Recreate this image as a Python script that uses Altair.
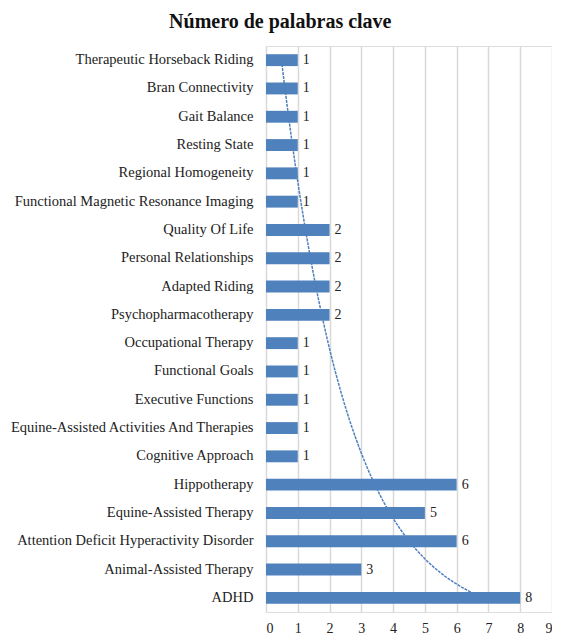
import altair as alt
import pandas as pd

categories = [
    "Therapeutic Horseback Riding",
    "Bran Connectivity",
    "Gait Balance",
    "Resting State",
    "Regional Homogeneity",
    "Functional Magnetic Resonance Imaging",
    "Quality Of Life",
    "Personal Relationships",
    "Adapted Riding",
    "Psychopharmacotherapy",
    "Occupational Therapy",
    "Functional Goals",
    "Executive Functions",
    "Equine-Assisted Activities And Therapies",
    "Cognitive Approach",
    "Hippotherapy",
    "Equine-Assisted Therapy",
    "Attention Deficit Hyperactivity Disorder",
    "Animal-Assisted Therapy",
    "ADHD",
]
values = [1, 1, 1, 1, 1, 1, 2, 2, 2, 2, 1, 1, 1, 1, 1, 6, 5, 6, 3, 8]
x_ticks = list(range(0, 10))

n = len(categories)
df = pd.DataFrame({
    "keyword": categories,
    "value": values,
    "idx": [n - i for i in range(n)],  # Excel order: ADHD = 1 at the bottom
})

FONT = "Liberation Serif"
BLUE = "#4f81bd"
TXT = "#222222"

x_axis = alt.Axis(
    title=None, values=x_ticks, grid=True, gridColor="#d9d9d9", gridWidth=1.5,
    domain=False, ticks=False, labelFont=FONT, labelFontSize=14,
    labelColor=TXT, labelPadding=9, format="d", labelOverlap=False,
)
x_scale = alt.Scale(domain=[0, 9], nice=False)
y_band = alt.Y(
    "keyword:N",
    sort=categories,
    scale=alt.Scale(paddingInner=0.58, paddingOuter=0.29),
    axis=alt.Axis(
        title=None, ticks=False, domain=False, labelFont=FONT, labelFontSize=14.5,
        labelColor=TXT, labelPadding=13, labelLimit=400,
    ),
)

bars = alt.Chart(df).mark_bar(color=BLUE).encode(
    x=alt.X("value:Q", scale=x_scale, axis=x_axis), y=y_band
)
labels = alt.Chart(df).mark_text(
    align="left", baseline="middle", dx=5, font=FONT, fontSize=14, color=TXT
).encode(x=alt.X("value:Q", scale=x_scale, axis=x_axis), y=y_band, text="value:Q")

trend = alt.Chart(df).transform_regression(
    "idx", "value", method="log"
).mark_line(color=BLUE, strokeWidth=1.5, strokeDash=[3, 1]).encode(
    x=alt.X("value:Q", scale=x_scale, axis=x_axis),
    y=alt.Y("idx:Q", scale=alt.Scale(domain=[0.5, n + 0.5], nice=False, zero=False), axis=None),
)

chart = alt.layer(alt.layer(bars, labels), trend).resolve_scale(
    y="independent"
).properties(
    width=286,
    height=566,
    padding={"top": 4, "left": 0, "right": 0, "bottom": 0},
    title=alt.TitleParams(
        "Número de palabras clave", font=FONT, fontSize=20, fontWeight="bold",
        color="#111111", anchor="middle", frame="bounds", offset=14,
    ),
).configure_view(stroke=None).configure(background="white")

chart.save("out.html", embed_options={"renderer": "svg", "actions": False})
